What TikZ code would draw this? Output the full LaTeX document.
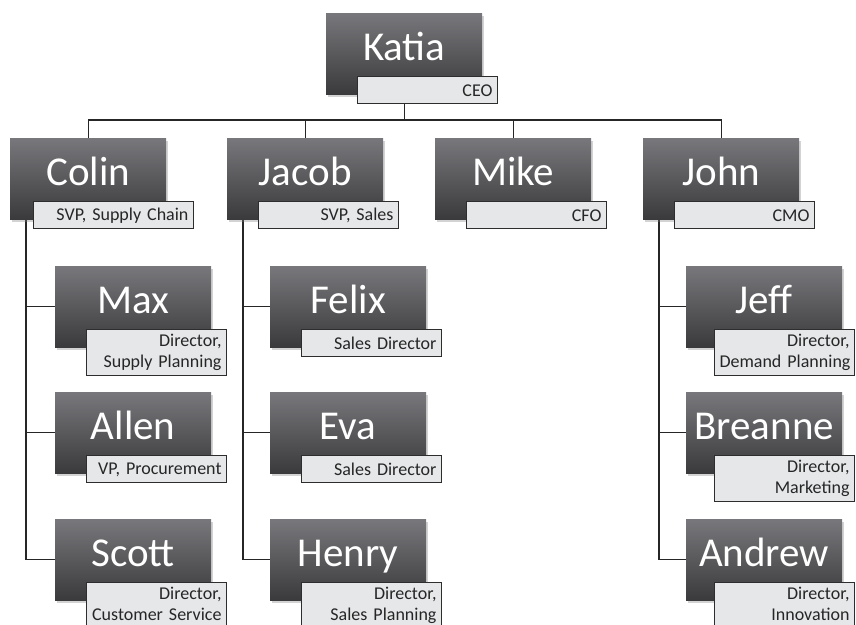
\documentclass[tikz,border=0pt]{standalone}
\usepackage{fontspec}
\setmainfont{Carlito}
\usetikzlibrary{shadows,backgrounds}
\definecolor{boxtop}{RGB}{120,120,124}
\definecolor{boxbot}{RGB}{58,58,60}
\definecolor{tagfill}{RGB}{230,231,233}
\definecolor{tagline}{RGB}{45,45,45}
\begin{document}
\begin{tikzpicture}[x=1pt, y=-1pt,
    person/.style={anchor=north west, minimum width=156pt, minimum height=81pt,
      inner sep=0pt, top color=boxtop, bottom color=boxbot, text=white,
      font=\fontsize{41}{41}\selectfont, text height=33pt, text depth=20pt,
      drop shadow={shadow xshift=2pt, shadow yshift=-3pt, opacity=.35}},
    title/.style={anchor=north west, draw=tagline, line width=1pt, fill=tagfill,
      text width=130pt, align=right, inner xsep=5pt, inner ysep=4.5pt,
      minimum height=27pt, font=\fontsize{18}{21}\selectfont, text=black!85},
    link/.style={draw=black!85, line width=1.4pt}]
    \useasboundingbox (0,0) rectangle (856,624);
    % top
    \node[person] (katia) at (326,13) {Katia};
    \node[title] (katia-t) at ([xshift=31pt,yshift=18pt]katia.south west) {CEO};
    % second level
    \node[person] (colin) at (10,138) {Colin};
    \node[title, text width=150pt] (colin-t) at ([xshift=23pt,yshift=18pt]colin.south west) {SVP, Supply Chain};
    \node[person] (jacob) at (227,138) {Jacob};
    \node[title] (jacob-t) at ([xshift=31pt,yshift=18pt]jacob.south west) {SVP, Sales};
    \node[person] (mike) at (435,138) {Mike};
    \node[title] (mike-t) at ([xshift=31pt,yshift=18pt]mike.south west) {CFO};
    \node[person] (john) at (643,138) {John};
    \node[title] (john-t) at ([xshift=31pt,yshift=18pt]john.south west) {CMO};
    % supply chain
    \node[person] (max) at (55,266) {Max};
    \node[title] (max-t) at ([xshift=31pt,yshift=18pt]max.south west) {Director,\\\mbox{Supply Planning}};
    \node[person] (allen) at (55,392) {Allen};
    \node[title] (allen-t) at ([xshift=31pt,yshift=18pt]allen.south west) {VP, Procurement};
    \node[person] (scott) at (55,519) {Scott};
    \node[title] (scott-t) at ([xshift=31pt,yshift=18pt]scott.south west) {Director,\\\mbox{Customer Service}};
    % sales
    \node[person] (felix) at (270,266) {Felix};
    \node[title] (felix-t) at ([xshift=31pt,yshift=18pt]felix.south west) {Sales Director};
    \node[person] (eva) at (270,392) {Eva};
    \node[title] (eva-t) at ([xshift=31pt,yshift=18pt]eva.south west) {Sales Director};
    \node[person] (henry) at (270,519) {Henry};
    \node[title] (henry-t) at ([xshift=31pt,yshift=18pt]henry.south west) {Director,\\\mbox{Sales Planning}};
    % marketing
    \node[person] (jeff) at (686,266) {Jeff};
    \node[title] (jeff-t) at ([xshift=28pt,yshift=18pt]jeff.south west) {Director,\\\mbox{Demand Planning}};
    \node[person] (breanne) at (686,392) {Breanne};
    \node[title] (breanne-t) at ([xshift=28pt,yshift=18pt]breanne.south west) {Director,\\Marketing};
    \node[person] (andrew) at (686,519) {Andrew};
    \node[title] (andrew-t) at ([xshift=28pt,yshift=18pt]andrew.south west) {Director,\\Innovation};
    % connectors
    \begin{scope}[on background layer]
      \coordinate (bus) at (0,120);
      \draw[link] (katia.south) -- (katia.south |- bus);
      \draw[link] (katia.south |- bus) -| (colin.north);
      \draw[link] (katia.south |- bus) -| (jacob.north);
      \draw[link] (katia.south |- bus) -| (mike.north);
      \draw[link] (katia.south |- bus) -| (john.north);
      \draw[link] ([xshift=16pt]colin.south west) |- (max.west);
      \draw[link] ([xshift=16pt]colin.south west) |- (allen.west);
      \draw[link] ([xshift=16pt]colin.south west) |- (scott.west);
      \draw[link] ([xshift=16pt]jacob.south west) |- (felix.west);
      \draw[link] ([xshift=16pt]jacob.south west) |- (eva.west);
      \draw[link] ([xshift=16pt]jacob.south west) |- (henry.west);
      \draw[link] ([xshift=16pt]john.south west) |- (jeff.west);
      \draw[link] ([xshift=16pt]john.south west) |- (breanne.west);
      \draw[link] ([xshift=16pt]john.south west) |- (andrew.west);
    \end{scope}
\end{tikzpicture}
\end{document}
